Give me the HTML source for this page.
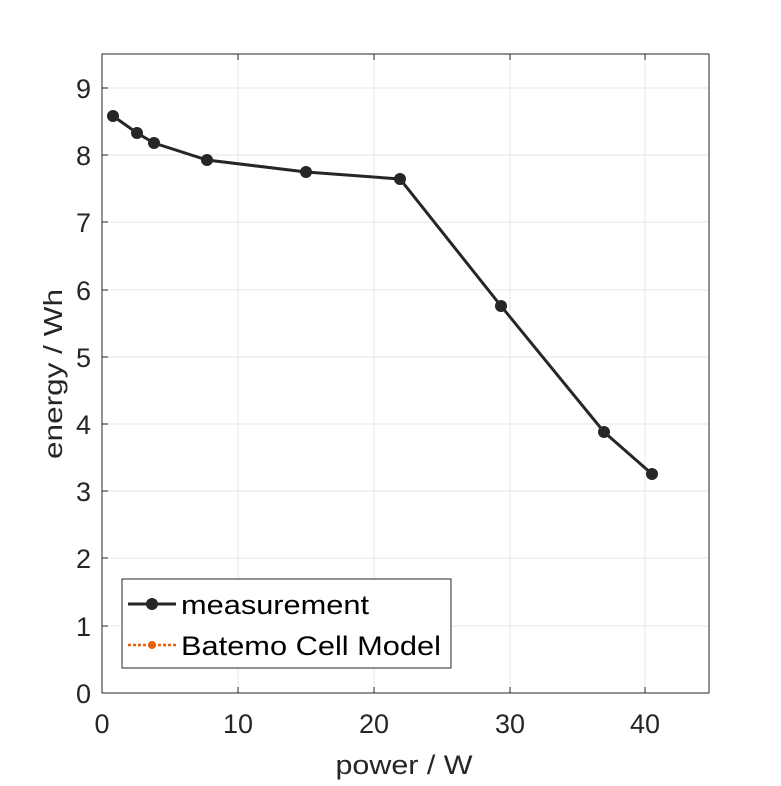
<!DOCTYPE html>
<html><head><meta charset="utf-8"><style>body{margin:0;background:#fff}</style></head><body>
<svg width="781" height="781" xmlns="http://www.w3.org/2000/svg" font-family="Liberation Sans, sans-serif">
<rect width="781" height="781" fill="#fff"/>
<g stroke="#e6e6e6" stroke-width="1">
<line x1="238" y1="54" x2="238" y2="693"/><line x1="374" y1="54" x2="374" y2="693"/><line x1="510" y1="54" x2="510" y2="693"/><line x1="645" y1="54" x2="645" y2="693"/>
<line x1="102" y1="626" x2="709" y2="626"/><line x1="102" y1="558" x2="709" y2="558"/><line x1="102" y1="491" x2="709" y2="491"/><line x1="102" y1="424" x2="709" y2="424"/><line x1="102" y1="357" x2="709" y2="357"/><line x1="102" y1="290" x2="709" y2="290"/><line x1="102" y1="222" x2="709" y2="222"/><line x1="102" y1="155" x2="709" y2="155"/><line x1="102" y1="88" x2="709" y2="88"/>
</g>
<rect x="102" y="54" width="607" height="639" fill="none" stroke="#262626" stroke-width="1"/>
<g stroke="#262626">
<line x1="238" y1="693" x2="238" y2="687"/><line x1="374" y1="693" x2="374" y2="687"/><line x1="510" y1="693" x2="510" y2="687"/><line x1="645" y1="693" x2="645" y2="687"/>
<line x1="238" y1="54" x2="238" y2="60"/><line x1="374" y1="54" x2="374" y2="60"/><line x1="510" y1="54" x2="510" y2="60"/><line x1="645" y1="54" x2="645" y2="60"/>
<line x1="102" y1="626" x2="108" y2="626"/><line x1="102" y1="558" x2="108" y2="558"/><line x1="102" y1="491" x2="108" y2="491"/><line x1="102" y1="424" x2="108" y2="424"/><line x1="102" y1="357" x2="108" y2="357"/><line x1="102" y1="290" x2="108" y2="290"/><line x1="102" y1="222" x2="108" y2="222"/><line x1="102" y1="155" x2="108" y2="155"/><line x1="102" y1="88" x2="108" y2="88"/>
</g>
<g font-size="27" fill="#262626" text-anchor="middle">
<text x="102" y="733">0</text><text x="238" y="733">10</text><text x="374" y="733">20</text><text x="510" y="733">30</text><text x="645" y="733">40</text>
<text x="404" y="774" textLength="137" lengthAdjust="spacingAndGlyphs">power / W</text>
</g>
<g font-size="27" fill="#262626" text-anchor="end">
<text x="91" y="703">0</text><text x="91" y="636">1</text><text x="91" y="568">2</text><text x="91" y="501">3</text><text x="91" y="434">4</text><text x="91" y="367">5</text><text x="91" y="300">6</text><text x="91" y="232">7</text><text x="91" y="165">8</text><text x="91" y="98">9</text>
</g>
<text transform="translate(62,374) rotate(-90)" font-size="26" fill="#262626" text-anchor="middle" textLength="170" lengthAdjust="spacingAndGlyphs">energy / Wh</text>
<polyline fill="none" stroke="#262626" stroke-width="3" points="113,116 137,133 154,143 207,160 306,172 400,179 501,306 604,432 652,474"/>
<g fill="#262626">
<circle cx="113" cy="116" r="6"/><circle cx="137" cy="133" r="6"/><circle cx="154" cy="143" r="6"/><circle cx="207" cy="160" r="6"/><circle cx="306" cy="172" r="6"/><circle cx="400" cy="179" r="6"/><circle cx="501" cy="306" r="6"/><circle cx="604" cy="432" r="6"/><circle cx="652" cy="474" r="6"/>
</g>
<rect x="122" y="579" width="329" height="89" fill="#fff" stroke="#262626" stroke-width="1"/>
<line x1="128" y1="604" x2="176" y2="604" stroke="#262626" stroke-width="3"/><circle cx="152" cy="604" r="6" fill="#262626"/>
<line x1="128" y1="645" x2="176" y2="645" stroke="#e8600c" stroke-width="2.5" stroke-dasharray="3,2"/><circle cx="152" cy="645" r="4" fill="#e8600c"/>
<text x="181" y="614" font-size="27" fill="#000" textLength="188" lengthAdjust="spacingAndGlyphs">measurement</text>
<text x="181" y="655" font-size="27" fill="#000" textLength="260" lengthAdjust="spacingAndGlyphs">Batemo Cell Model</text>
</svg>
</body></html>
